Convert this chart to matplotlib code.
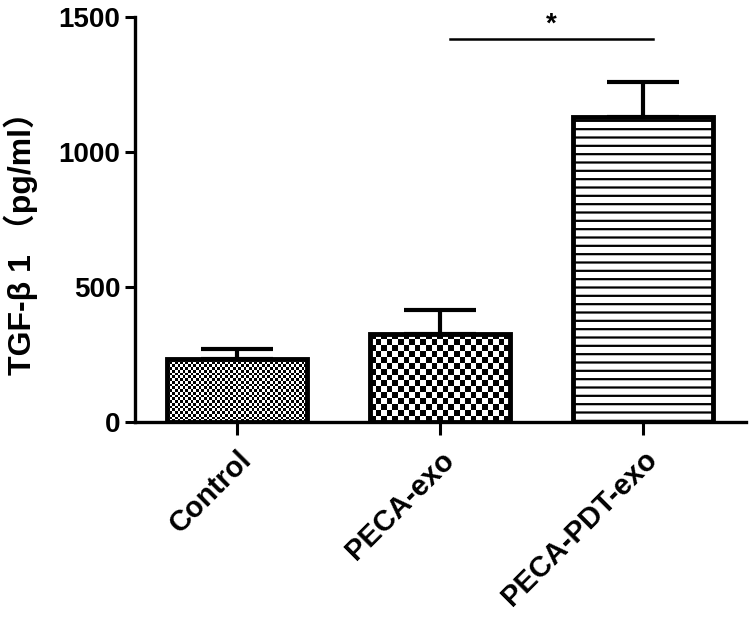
import matplotlib.pyplot as plt
import numpy as np

groups = ['Control', 'PECA-exo', 'PECA-PDT-exo']
means = [232, 326, 1130]
sems = [38, 89, 129]
# significance bracket between PECA-exo and PECA-PDT-exo
sig_pair = (1, 2)
sig_y = 1420
sig_label = '*'

plt.rcParams['font.family'] = ['Liberation Sans', 'Noto Sans CJK SC']
plt.rcParams['font.weight'] = 'bold'
plt.rcParams['hatch.linewidth'] = 1.6

fig = plt.figure(figsize=(7.5, 6.26), dpi=100)
ax = fig.add_axes([0.18, 0.326, 0.815, 0.647])

x = np.arange(len(groups))
width = 0.69
bars = ax.bar(x, means, width, color='none', edgecolor='black', linewidth=3.5, zorder=3)
ax.errorbar(x, means, yerr=[np.zeros(len(sems)), sems], fmt='none', ecolor='black',
            elinewidth=3, capsize=26, capthick=3, zorder=2)


def checker(bar, cell_px):
    # checkerboard texture clipped to the bar
    x0, w, h = bar.get_x(), bar.get_width(), bar.get_height()
    px_h = max(int(h * 0.27), 1)
    nx = max(int(140 / cell_px), 1)
    ny = max(int(px_h / cell_px), 1)
    img = (np.add.outer(np.arange(ny), np.arange(nx)) % 2).astype(float)
    im = ax.imshow(img, cmap='gray', extent=[x0, x0 + w, 0, h], aspect='auto',
                   interpolation='nearest', zorder=2.5, vmin=0.15, vmax=1)
    im.set_clip_path(bar)


checker(bars[0], 2.6)
checker(bars[1], 5.6)
bars[2].set_hatch('--')

ax.set_xlim(-0.504, 2.51)
ax.set_ylim(0, 1500)
ax.set_yticks([0, 500, 1000, 1500])
ax.set_xticks(x)
ax.set_xticklabels(groups, rotation=45, ha='right', rotation_mode='anchor',
                   fontsize=21, fontweight='bold')
ax.tick_params(axis='y', labelsize=20, width=2.2, length=7)
ax.tick_params(axis='x', width=2.2, length=9, pad=8)
for t in ax.get_yticklabels():
    t.set_fontweight('bold')
for s in ['top', 'right']:
    ax.spines[s].set_visible(False)
ax.spines['left'].set_linewidth(2.4)
ax.spines['bottom'].set_linewidth(2.4)

ax.set_ylabel('TGF-β 1 （pg/ml）', fontsize=23, fontweight='bold')
ax.yaxis.set_label_coords(-0.158, 0.46)

ax.plot([x[sig_pair[0]] + 0.05, x[sig_pair[1]] + 0.05], [sig_y, sig_y], color='black', lw=1.8, clip_on=False)
ax.text((x[sig_pair[0]] + x[sig_pair[1]]) / 2 + 0.05, sig_y + 5, sig_label,
        ha='center', va='bottom', fontsize=20, fontweight='bold')

fig.savefig('out.png', dpi=100)
